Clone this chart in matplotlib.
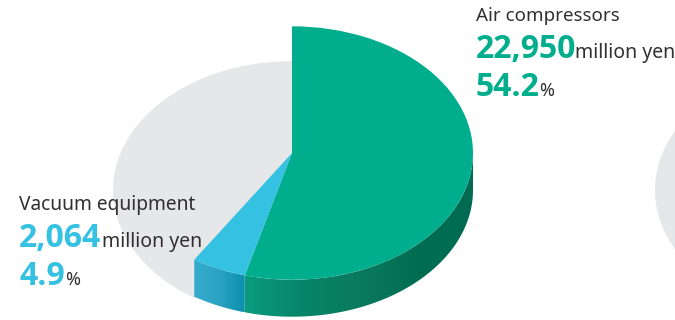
#!/usr/bin/env python3
import numpy as np
import matplotlib
matplotlib.use("Agg")
import matplotlib.pyplot as plt
from matplotlib.colors import LinearSegmentedColormap
from matplotlib.patches import Polygon

plt.rcParams["font.family"] = ["Noto Sans", "DejaVu Sans"]

# sales in million yen
air_compressors = 22950
vacuum_equipment = 2064
other_sales = 17329
sales = [air_compressors, vacuum_equipment, other_sales]

GREEN = "#00ae8e"
BLUE = "#35c1e2"
GREY = "#e6e7e9"
TEXT = "#332f30"

WIDTH, HEIGHT = 675, 320
SQUASH = 0.70        # vertical flattening of the raised slices
FLOOR_SQUASH = 0.72  # the flat grey disc is a little rounder
RADIUS = 181
FLOOR_RADIUS = 179
CENTER_X = 292
TOP_Y = 153    # top face centre, pixels from the top
FLOOR_Y = 190  # grey disc centre
DEPTH = 37     # thickness of the raised slices
NEXT_PIE_X = 834

fig = plt.figure(figsize=(WIDTH / 100, HEIGHT / 100), dpi=100)

# grey remainder stays flat on the floor of the pie
floor_ax = fig.add_axes([0, 0, 1, 1], zorder=1)
floor_y = (HEIGHT - FLOOR_Y) / FLOOR_SQUASH
floor_ax.pie(sales, colors=["none", "none", GREY], startangle=90, counterclock=False,
             radius=FLOOR_RADIUS, center=(CENTER_X, floor_y), wedgeprops={"linewidth": 0})
# neighbouring pie, cut off by the right edge
floor_ax.pie([1], colors=[GREY], radius=FLOOR_RADIUS, center=(NEXT_PIE_X, floor_y),
             wedgeprops={"linewidth": 0})
floor_ax.set_aspect("auto")
floor_ax.axis("off")
floor_ax.set_xlim(0, WIDTH)
floor_ax.set_ylim(0, HEIGHT / FLOOR_SQUASH)

ax = fig.add_axes([0, 0, 1, 1], zorder=2)
top, _ = ax.pie(sales, colors=[GREEN, BLUE, "none"], startangle=90, counterclock=False,
                radius=RADIUS, center=(CENTER_X, (HEIGHT - TOP_Y) / SQUASH),
                wedgeprops={"linewidth": 0})
for w in top:
    w.set_zorder(5)
ax.set_aspect("auto")
ax.axis("off")

# walls under the two raised slices, shaded left to right
wall_colors = [["#0a9c7e", "#078568", "#0a7a5e", "#006e53", "#006b50"],
               ["#36accd", "#2aa3c3", "#0c8fac"]]
for wedge, shades in zip(top[:2], wall_colors):
    # clockwise slices have negative angles, the front half is -180..0
    start = max(wedge.theta1, -180)
    end = min(wedge.theta2, 0)
    t = np.radians(np.linspace(start, end, 150))
    x = wedge.center[0] + wedge.r * np.cos(t)
    y = wedge.center[1] + wedge.r * np.sin(t)
    drop = DEPTH / SQUASH
    outline = np.column_stack([np.r_[x, x[::-1]], np.r_[y, y[::-1] - drop]])
    clip = Polygon(outline, closed=True, transform=ax.transData, facecolor="none", edgecolor="none")
    ax.add_patch(clip)
    cmap = LinearSegmentedColormap.from_list("wall", shades)
    img = ax.imshow(np.linspace(0, 1, 256).reshape(1, -1), cmap=cmap, aspect="auto", zorder=3,
                    extent=[x.min(), x.max(), y.min() - drop, y.max()])
    img.set_clip_path(clip)

ax.set_xlim(0, WIDTH)
ax.set_ylim(0, HEIGHT / SQUASH)


def label(x, y, text, size, color=TEXT, family=None, weight="normal"):
    fig.text(x / WIDTH, 1 - y / HEIGHT, text, fontsize=size, color=color, fontweight=weight,
             family=family, va="baseline", ha="left", zorder=10)


BOLD_FONT = ["Open Sans", "DejaVu Sans"]

label(476, 21, "Air compressors", 13.5)
label(476, 58, f"{air_compressors:,}", 23, GREEN, BOLD_FONT, "bold")
label(575, 58, "million yen", 14)
label(476, 96, f"{air_compressors / sum(sales) * 100:.1f}", 23, GREEN, BOLD_FONT, "bold")
label(539, 96, "%", 13)

label(19, 210, "Vacuum equipment", 13.8)
label(19, 247, f"{vacuum_equipment:,}", 23, BLUE, BOLD_FONT, "bold")
label(102, 247, "million yen", 14)
label(19, 285, f"{vacuum_equipment / sum(sales) * 100:.1f}", 23, BLUE, BOLD_FONT, "bold")
label(65, 285, "%", 13)

fig.savefig("out.png", dpi=100)
